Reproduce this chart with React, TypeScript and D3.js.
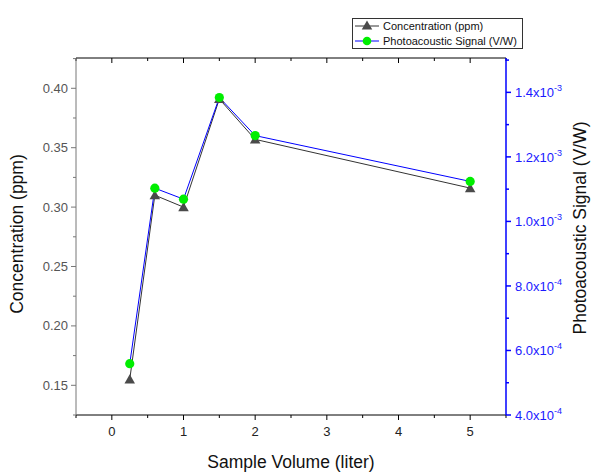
import React from "react";
import * as d3 from "d3";

const volumes = [0.25, 0.6, 1, 1.5, 2, 5];
const concentration = [0.155, 0.31, 0.3, 0.391, 0.357, 0.316];
const signal = [5.59e-4, 1.103e-3, 1.069e-3, 1.384e-3, 1.266e-3, 1.124e-3];
const xTicks = [0, 1, 2, 3, 4, 5];
const xMinor = [-0.5, 0.5, 1.5, 2.5, 3.5, 4.5, 5.5];
const yTicks = [0.15, 0.2, 0.25, 0.3, 0.35, 0.4];
const yMinor = [0.125, 0.175, 0.225, 0.275, 0.325, 0.375, 0.425];
const y2Ticks = [4e-4, 6e-4, 8e-4, 1e-3, 1.2e-3, 1.4e-3];
const y2Minor = [5e-4, 7e-4, 9e-4, 1.1e-3, 1.3e-3, 1.5e-3];
const y2Labels = [["4.0", "-4"], ["6.0", "-4"], ["8.0", "-4"], ["1.0", "-3"], ["1.2", "-3"], ["1.4", "-3"]];

export default function App() {
  const W = 592, H = 472;
  const L = 76, R = 506, T = 58, B = 415;
  const x = d3.scaleLinear().domain([-0.5, 5.5]).range([L, R]);
  const y = d3.scaleLinear().domain([0.125, 0.4255]).range([B, T]);
  const y2 = d3.scaleLinear().domain([4e-4, 1.5065e-3]).range([B, T]);
  const font = "'Liberation Sans', Arial, sans-serif";
  const lineC = d3.line<number>().x((_, i) => x(volumes[i])).y((d) => y(d));
  const lineS = d3.line<number>().x((_, i) => x(volumes[i])).y((d) => y2(d));
  const tri = d3.symbol().type(d3.symbolTriangle).size(48)();
  const grey = "#555";
  return (
    <svg width={W} height={H} style={{ position: "absolute", left: 0, top: 0, fontFamily: font }}>
      <rect width={W} height={H} fill="#fff" />
      {/* data */}
      <path d={lineC(concentration) || ""} fill="none" stroke="#333" strokeWidth={1} />
      <path d={lineS(signal) || ""} fill="none" stroke="#0000ff" strokeWidth={1} />
      {concentration.map((v, i) => (
        <path key={"t" + i} d={tri || ""} transform={`translate(${x(volumes[i])},${y(v) + 1})`} fill="#4a4a4a" />
      ))}
      {signal.map((v, i) => (
        <circle key={"c" + i} cx={x(volumes[i])} cy={y2(v)} r={4.6} fill="#00ee00" />
      ))}
      {/* top axis */}
      <line x1={L} x2={R} y1={T} y2={T} stroke="#000" />
      {xTicks.map((t) => (
        <line key={"tt" + t} x1={x(t)} x2={x(t)} y1={T} y2={T + 5} stroke="#000" />
      ))}
      {xMinor.map((t) => (
        <line key={"tm" + t} x1={x(t)} x2={x(t)} y1={T} y2={T + 3} stroke="#000" />
      ))}
      {/* bottom axis */}
      <line x1={L} x2={R} y1={B} y2={B} stroke="#000" />
      {xTicks.map((t) => (
        <g key={"bt" + t}>
          <line x1={x(t)} x2={x(t)} y1={B} y2={B + 5} stroke="#000" />
          <text x={x(t)} y={B + 21} textAnchor="middle" fontSize={13} fill="#222">{t}</text>
        </g>
      ))}
      {xMinor.map((t) => (
        <line key={"bm" + t} x1={x(t)} x2={x(t)} y1={B} y2={B + 3} stroke="#000" />
      ))}
      <text x={291} y={B + 53} textAnchor="middle" fontSize={17.5} fill="#111">Sample Volume (liter)</text>
      {/* left axis */}
      <line x1={L} x2={L} y1={T} y2={B} stroke="#777" />
      {yTicks.map((t) => (
        <g key={"lt" + t}>
          <line x1={L - 5} x2={L} y1={y(t)} y2={y(t)} stroke="#777" />
          <text x={L - 8} y={y(t) + 4.5} textAnchor="end" fontSize={13} fill={grey}>{t.toFixed(2)}</text>
        </g>
      ))}
      {yMinor.map((t) => (
        <line key={"lm" + t} x1={L - 3} x2={L} y1={y(t)} y2={y(t)} stroke="#777" />
      ))}
      <text transform={`translate(23,234) rotate(-90)`} textAnchor="middle" fontSize={17.5} fill="#111">Concentration (ppm)</text>
      {/* right axis */}
      <line x1={R} x2={R} y1={T} y2={B} stroke="#0000ff" strokeWidth={1.5} />
      {y2Ticks.map((t, i) => (
        <g key={"rt" + i}>
          <line x1={R} x2={R + 5} y1={y2(t)} y2={y2(t)} stroke="#0000ff" strokeWidth={1.5} />
          <text x={R + 9} y={y2(t) + 5} fontSize={13} fill="#1a1aff">
            {y2Labels[i][0]}x10<tspan dy={-6} fontSize={9}>{y2Labels[i][1]}</tspan>
          </text>
        </g>
      ))}
      {y2Minor.map((t, i) => (
        <line key={"rm" + i} x1={R} x2={R + 3} y1={y2(t)} y2={y2(t)} stroke="#0000ff" strokeWidth={1.5} />
      ))}
      <text transform={`translate(586,228) rotate(-90)`} textAnchor="middle" fontSize={17.5} fill="#111">Photoacoustic Signal (V/W)</text>
      {/* legend */}
      <rect x={352.5} y={18.5} width={170} height={30} fill="#fff" stroke="#333" />
      <line x1={355} x2={379} y1={26} y2={26} stroke="#333" />
      <path d={tri || ""} transform="translate(367,26.5)" fill="#4a4a4a" />
      <text x={383} y={30} fontSize={11} fill="#111">Concentration (ppm)</text>
      <line x1={355} x2={379} y1={41} y2={41} stroke="#0000ff" />
      <circle cx={367} cy={41} r={4.3} fill="#00ee00" />
      <text x={383} y={45} fontSize={11} fill="#111">Photoacoustic Signal (V/W)</text>
    </svg>
  );
}
